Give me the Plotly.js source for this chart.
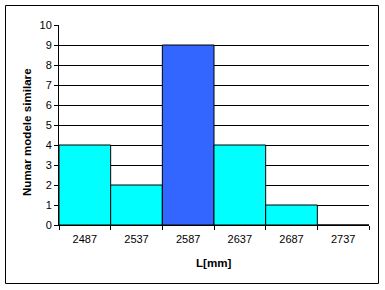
<!DOCTYPE html>
<html><head><meta charset="utf-8">
<script src="https://cdn.plot.ly/plotly-3.0.1.min.js"></script>
<style>html,body{margin:0;padding:0;background:#fff}#c{width:385px;height:290px}</style>
</head><body><div id="c"></div>
<script>
const categories = ["2487","2537","2587","2637","2687","2737"];
const counts = [4, 2, 9, 4, 1, 0];
const barColors = ["#00FFFF","#00FFFF","#3366FF","#00FFFF","#00FFFF","#00FFFF"];
const yTickVals = [0,1,2,3,4,5,6,7,8,9,10];
const xTitle = "L[mm]";
const yTitle = "Numar modele similare";

const fam = "Liberation Sans, Arial, sans-serif";
const font = {family: fam, color: "#000", size: 11};
const boldFont = {family: fam, color: "#000", size: 11.6, weight: "bold"};
Plotly.newPlot("c", [{
  type: "bar", x: categories, y: counts,
  marker: {color: barColors, line: {color: "#000", width: 1}},
  hoverinfo: "none"
}], {
  width: 385, height: 290,
  margin: {l: 59, r: 16, t: 25, b: 65},
  paper_bgcolor: "#fff", plot_bgcolor: "#fff",
  bargap: 0, showlegend: false, font: font,
  xaxis: {type: "category", showline: true, linecolor: "#000", linewidth: 1,
    ticks: "outside", ticklen: 4, tickcolor: "#000", tickson: "boundaries",
    ticklabelstandoff: 4, showgrid: false, tickfont: font},
  yaxis: {range: [0, 10], tickvals: yTickVals, showline: true, linecolor: "#000", linewidth: 1,
    ticks: "outside", ticklen: 4, tickcolor: "#000",
    showgrid: true, gridcolor: "#000", gridwidth: 1, zeroline: false, tickfont: font},
  annotations: [
    {text: xTitle, xref: "paper", yref: "paper", x: 0.5, y: (225-262)/200,
     xanchor: "center", yanchor: "middle", showarrow: false, font: boldFont},
    {text: yTitle, xref: "paper", yref: "paper", x: (26.5-59)/310, y: (225-132.5)/200,
     xanchor: "center", yanchor: "middle", textangle: -90, showarrow: false, font: boldFont}
  ],
  shapes: [{type: "rect", xref: "paper", yref: "paper",
    x0: (5.5-59)/310, x1: (378.5-59)/310, y0: (225-283.5)/200, y1: (225-5.5)/200,
    line: {color: "#000", width: 1}, fillcolor: "rgba(0,0,0,0)", layer: "above"}]
}, {staticPlot: true});
</script></body></html>
